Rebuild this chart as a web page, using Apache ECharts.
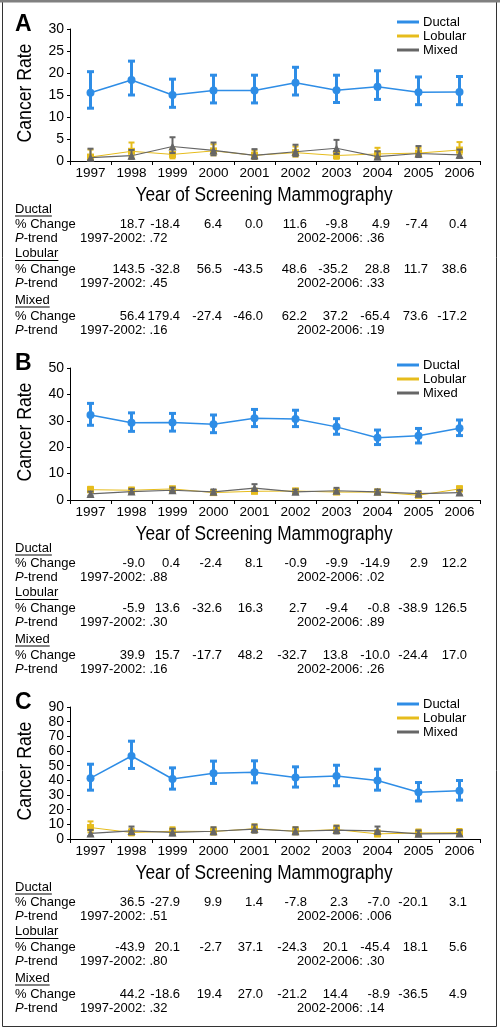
<!DOCTYPE html>
<html><head><meta charset="utf-8">
<script src="https://cdn.jsdelivr.net/npm/echarts@6/dist/echarts.min.js"></script>
<style>html,body{margin:0;padding:0;background:#fff}#c{width:500px;height:1030px}</style>
</head><body><div id="c"></div>
<script>
const years = ['1997','1998','1999','2000','2001','2002','2003','2004','2005','2006'];
const seriesNames = ['Ductal','Lobular','Mixed'];
const panelLetters = ['A','B','C'];
const yMax = [30, 50, 90];
const yInterval = [5, 10, 10];
const xAxisTitle = 'Year of Screening Mammography';
const yAxisTitle = 'Cancer Rate';

// Panel A
const aDuctal = [15.5, 18.4, 15.0, 16.0, 16.0, 17.8, 16.1, 16.9, 15.6, 15.7];
const aDuctalLo = [12.0, 15.0, 12.2, 13.2, 13.2, 15.0, 13.3, 14.0, 12.8, 12.8];
const aDuctalHi = [20.3, 22.7, 18.6, 19.5, 19.5, 21.3, 19.5, 20.5, 19.1, 19.2];
const aLobular = [0.9, 2.2, 1.5, 2.3, 1.3, 1.9, 1.25, 1.6, 1.8, 2.5];
const aLobularLo = [0.3, 1.0, 0.6, 1.3, 0.5, 1.0, 0.5, 0.8, 1.0, 1.5];
const aLobularHi = [2.6, 4.2, 2.8, 3.8, 2.4, 3.3, 2.3, 3.0, 3.0, 4.3];
const aMixed = [0.75, 1.2, 3.3, 2.4, 1.3, 2.1, 2.9, 1.0, 1.7, 1.4];
const aMixedLo = [0.2, 0.5, 1.8, 1.3, 0.5, 1.1, 1.6, 0.4, 0.9, 0.7];
const aMixedHi = [2.8, 2.5, 5.4, 4.2, 2.7, 3.7, 4.8, 2.2, 3.4, 2.6];

// Panel B
const bDuctal = [32.2, 29.3, 29.4, 28.7, 31.0, 30.7, 27.7, 23.6, 24.3, 27.2];
const bDuctalLo = [28.3, 26.0, 26.1, 25.5, 27.8, 27.8, 24.9, 21.0, 21.6, 24.4];
const bDuctalHi = [36.6, 33.0, 32.8, 32.2, 34.3, 34.0, 30.8, 26.5, 27.1, 30.3];
const bLobular = [3.9, 3.7, 4.2, 2.8, 3.3, 3.4, 3.0, 3.0, 1.8, 4.2];
const bLobularLo = [3.0, 2.9, 3.3, 2.1, 2.5, 2.6, 2.3, 2.3, 1.3, 3.3];
const bLobularHi = [5.0, 4.7, 5.1, 3.7, 4.2, 4.3, 3.9, 3.9, 2.5, 5.2];
const bMixed = [2.3, 3.2, 3.7, 3.1, 4.5, 3.1, 3.5, 3.1, 2.4, 2.8];
const bMixedLo = [1.6, 2.4, 2.9, 2.3, 3.5, 2.3, 2.6, 2.3, 1.7, 2.0];
const bMixedHi = [3.2, 4.2, 4.7, 4.0, 6.0, 4.0, 4.6, 4.0, 3.3, 3.7];

// Panel C
const cDuctal = [41.5, 56.6, 40.9, 44.9, 45.5, 42.0, 42.9, 39.9, 31.9, 32.9];
const cDuctalLo = [33.3, 48.1, 34.0, 37.9, 38.3, 35.4, 36.3, 33.3, 25.9, 26.5];
const cDuctalHi = [51.0, 66.7, 48.5, 53.1, 53.3, 49.2, 50.3, 47.6, 38.5, 39.9];
const cLobular = [7.8, 4.4, 5.3, 5.1, 7.0, 5.3, 6.4, 3.5, 4.1, 4.3];
const cLobularLo = [4.5, 2.5, 3.2, 3.0, 4.5, 3.2, 4.0, 1.8, 2.3, 2.5];
const cLobularHi = [12.0, 7.0, 8.0, 7.8, 10.0, 8.0, 9.2, 6.0, 6.5, 6.8];
const cMixed = [3.8, 5.5, 4.5, 5.3, 6.8, 5.3, 6.1, 5.6, 3.5, 3.7];
const cMixedLo = [2.0, 3.2, 2.5, 3.2, 4.3, 3.2, 3.8, 3.3, 1.9, 2.0];
const cMixedHi = [6.2, 8.5, 7.0, 8.0, 9.8, 8.0, 9.0, 8.5, 5.8, 6.0];

// Tables: % change (1998..2006 vs prior year) and P-trend
const aDuctalChange = ['18.7','-18.4','6.4','0.0','11.6','-9.8','4.9','-7.4','0.4'];
const aLobularChange = ['143.5','-32.8','56.5','-43.5','48.6','-35.2','28.8','11.7','38.6'];
const aMixedChange = ['56.4','179.4','-27.4','-46.0','62.2','37.2','-65.4','73.6','-17.2'];
const aPtrend = [['.72','.36'],['.45','.33'],['.16','.19']];

const bDuctalChange = ['-9.0','0.4','-2.4','8.1','-0.9','-9.9','-14.9','2.9','12.2'];
const bLobularChange = ['-5.9','13.6','-32.6','16.3','2.7','-9.4','-0.8','-38.9','126.5'];
const bMixedChange = ['39.9','15.7','-17.7','48.2','-32.7','13.8','-10.0','-24.4','17.0'];
const bPtrend = [['.88','.02'],['.30','.89'],['.16','.26']];

const cDuctalChange = ['36.5','-27.9','9.9','1.4','-7.8','2.3','-7.0','-20.1','3.1'];
const cLobularChange = ['-43.9','20.1','-2.7','37.1','-24.3','20.1','-45.4','18.1','5.6'];
const cMixedChange = ['44.2','-18.6','19.4','27.0','-21.2','14.4','-8.9','-36.5','4.9'];
const cPtrend = [['.51','.006'],['.80','.30'],['.32','.14']];

const periods = ['1997-2002: ', '2002-2006: '];

const panels = [
  {d:[aDuctal,aDuctalLo,aDuctalHi], l:[aLobular,aLobularLo,aLobularHi], m:[aMixed,aMixedLo,aMixedHi], ch:[aDuctalChange,aLobularChange,aMixedChange], p:aPtrend},
  {d:[bDuctal,bDuctalLo,bDuctalHi], l:[bLobular,bLobularLo,bLobularHi], m:[bMixed,bMixedLo,bMixedHi], ch:[bDuctalChange,bLobularChange,bMixedChange], p:bPtrend},
  {d:[cDuctal,cDuctalLo,cDuctalHi], l:[cLobular,cLobularLo,cLobularHi], m:[cMixed,cMixedLo,cMixedHi], ch:[cDuctalChange,cLobularChange,cMixedChange], p:cPtrend}
];

// ---------- layout / style ----------
const FONT = '"Liberation Sans", Arial, sans-serif';
const colors = {Ductal:'#2e8de6', Lobular:'#e6bc1c', Mixed:'#666666'};
const gridTops = [29, 368, 707];
const gridLeft = 70, gridWidth = 410, gridHeight = 132;
const legendOffsets = [-7, -3, -3];
const colRight = [145, 180, 222, 263, 307, 348, 390, 428, 467];
const rowOffsets = [180, 195, 209, 224.5, 240, 254, 271, 287, 301];

const chart = echarts.init(document.getElementById('c'), null, {renderer:'canvas'});

const measureCtx = document.createElement('canvas').getContext('2d');
function textWidth(t, size){ measureCtx.font = size + 'px "Liberation Sans", Arial'; return measureCtx.measureText(t).width; }

function errRender(color, lw, cap){
  return function(params, api){
    const x = api.value(0);
    const p1 = api.coord([x, api.value(1)]);
    const p2 = api.coord([x, api.value(2)]);
    const style = {stroke: color, lineWidth: lw};
    return {type:'group', children:[
      {type:'line', shape:{x1:p1[0], y1:p1[1], x2:p2[0], y2:p2[1]}, style},
      {type:'line', shape:{x1:p1[0]-cap, y1:p1[1], x2:p1[0]+cap, y2:p1[1]}, style},
      {type:'line', shape:{x1:p2[0]-cap, y1:p2[1], x2:p2[0]+cap, y2:p2[1]}, style}
    ]};
  };
}

const grid = [], xAxis = [], yAxis = [], series = [], legend = [], graphic = [];

panels.forEach((pn, k) => {
  grid.push({left: gridLeft, top: gridTops[k], width: gridWidth, height: gridHeight});
  xAxis.push({
    type:'category', gridIndex:k, data: years, boundaryGap:true,
    axisLine:{lineStyle:{color:'#000', width:1}},
    axisTick:{show:true, length:4, alignWithLabel:false, lineStyle:{color:'#000'}},
    axisLabel:{color:'#000', fontSize:13.5, fontFamily:FONT, margin:5, interval:0}
  });
  yAxis.push({
    type:'value', gridIndex:k, min:0, max:yMax[k], interval:yInterval[k],
    axisLine:{show:true, lineStyle:{color:'#000', width:1}},
    axisTick:{show:true, length:3, lineStyle:{color:'#000'}},
    splitLine:{show:false},
    axisLabel:{color:'#000', fontSize:14, fontFamily:FONT, margin:6}
  });
  const defs = [
    {name:'Lobular', v:pn.l, sym:'rect', size:7, lw:1, elw:2, cap:3, z:2},
    {name:'Mixed', v:pn.m, sym:'triangle', size:8, lw:1.2, elw:2, cap:3, z:4},
    {name:'Ductal', v:pn.d, sym:'circle', size:8, lw:1.5, elw:3, cap:3.5, z:6}
  ];
  defs.forEach(df => {
    series.push({
      type:'custom', name: df.name + ' CI', xAxisIndex:k, yAxisIndex:k, z: df.z,
      renderItem: errRender(colors[df.name], df.elw, df.cap),
      encode:{x:0, y:[1,2]},
      data: years.map((y,i) => [i, df.v[1][i], df.v[2][i]]),
      silent:true
    });
    series.push({
      type:'line', name: df.name, xAxisIndex:k, yAxisIndex:k, z: df.z + 1,
      data: df.v[0], symbol: df.sym, symbolSize: df.size, showSymbol:true,
      itemStyle:{color: colors[df.name]},
      lineStyle:{color: colors[df.name], width: df.lw}
    });
  });
  legend.push({
    data: seriesNames, orient:'vertical', left: 397, top: gridTops[k] + legendOffsets[k] - 7,
    icon:'rect', itemWidth:22, itemHeight:3, itemGap:0,
    textStyle:{color:'#000', fontSize:13, fontFamily:FONT, lineHeight:14, padding:[0,0,0,-1]},
    selectedMode:false, padding:0
  });
  // panel letter
  graphic.push({type:'text', left:15, top: gridTops[k] - 16, style:{text: panelLetters[k], font:'bold 23px ' + FONT, fill:'#000'}});
  // axis titles (condensed look via horizontal scale)
  graphic.push({type:'text', x:264, y: gridTops[k] + 166, scaleX:0.865,
    style:{text: xAxisTitle, fontSize:20, fontFamily:FONT, fill:'#000', align:'center', verticalAlign:'middle'}});
  graphic.push({type:'text', x:25, y: gridTops[k] + 64, rotation: Math.PI/2, scaleX:0.88,
    style:{text: yAxisTitle, fontSize:20, fontFamily:FONT, fill:'#000', align:'center', verticalAlign:'middle'}});
  // table
  const base = gridTops[k];
  for (let s = 0; s < 3; s++) {
    const yH = base + rowOffsets[s*3], yC = base + rowOffsets[s*3+1], yP = base + rowOffsets[s*3+2];
    graphic.push({type:'text', x:15, y:yH, style:{text: seriesNames[s], fontSize:13, fontFamily:FONT, fill:'#000', verticalAlign:'middle'}});
    const w = textWidth(seriesNames[s], 13);
    graphic.push({type:'line', shape:{x1:15, y1:yH+7, x2:15+w, y2:yH+7}, style:{stroke:'#000', lineWidth:1}});
    graphic.push({type:'text', x:15, y:yC, style:{text:'% Change', fontSize:13, fontFamily:FONT, fill:'#000', verticalAlign:'middle'}});
    pn.ch[s].forEach((v, j) => {
      graphic.push({type:'text', x: colRight[j], y:yC, style:{text:v, fontSize:13, fontFamily:FONT, fill:'#000', align:'right', verticalAlign:'middle'}});
    });
    graphic.push({type:'text', x:15, y:yP, style:{text:'{i|P}-trend', fontSize:13, fontFamily:FONT, fill:'#000', verticalAlign:'middle',
      rich:{i:{fontStyle:'italic', fontSize:13, fontFamily:FONT, fill:'#000'}}}});
    graphic.push({type:'text', x:80, y:yP, style:{text: periods[0] + pn.p[s][0], fontSize:13, fontFamily:FONT, fill:'#000', verticalAlign:'middle'}});
    graphic.push({type:'text', x:297, y:yP, style:{text: periods[1] + pn.p[s][1], fontSize:13, fontFamily:FONT, fill:'#000', verticalAlign:'middle'}});
  }
});

// frame
graphic.push({type:'rect', shape:{x:2.5, y:1.5, width:494, height:1025}, style:{fill:'none', stroke:'#333', lineWidth:1}, z:-1});
graphic.push({type:'line', shape:{x1:0, y1:1, x2:500, y2:1}, style:{stroke:'#808080', lineWidth:3}});

chart.setOption({animation:false, grid, xAxis, yAxis, series, legend, graphic});
</script></body></html>
